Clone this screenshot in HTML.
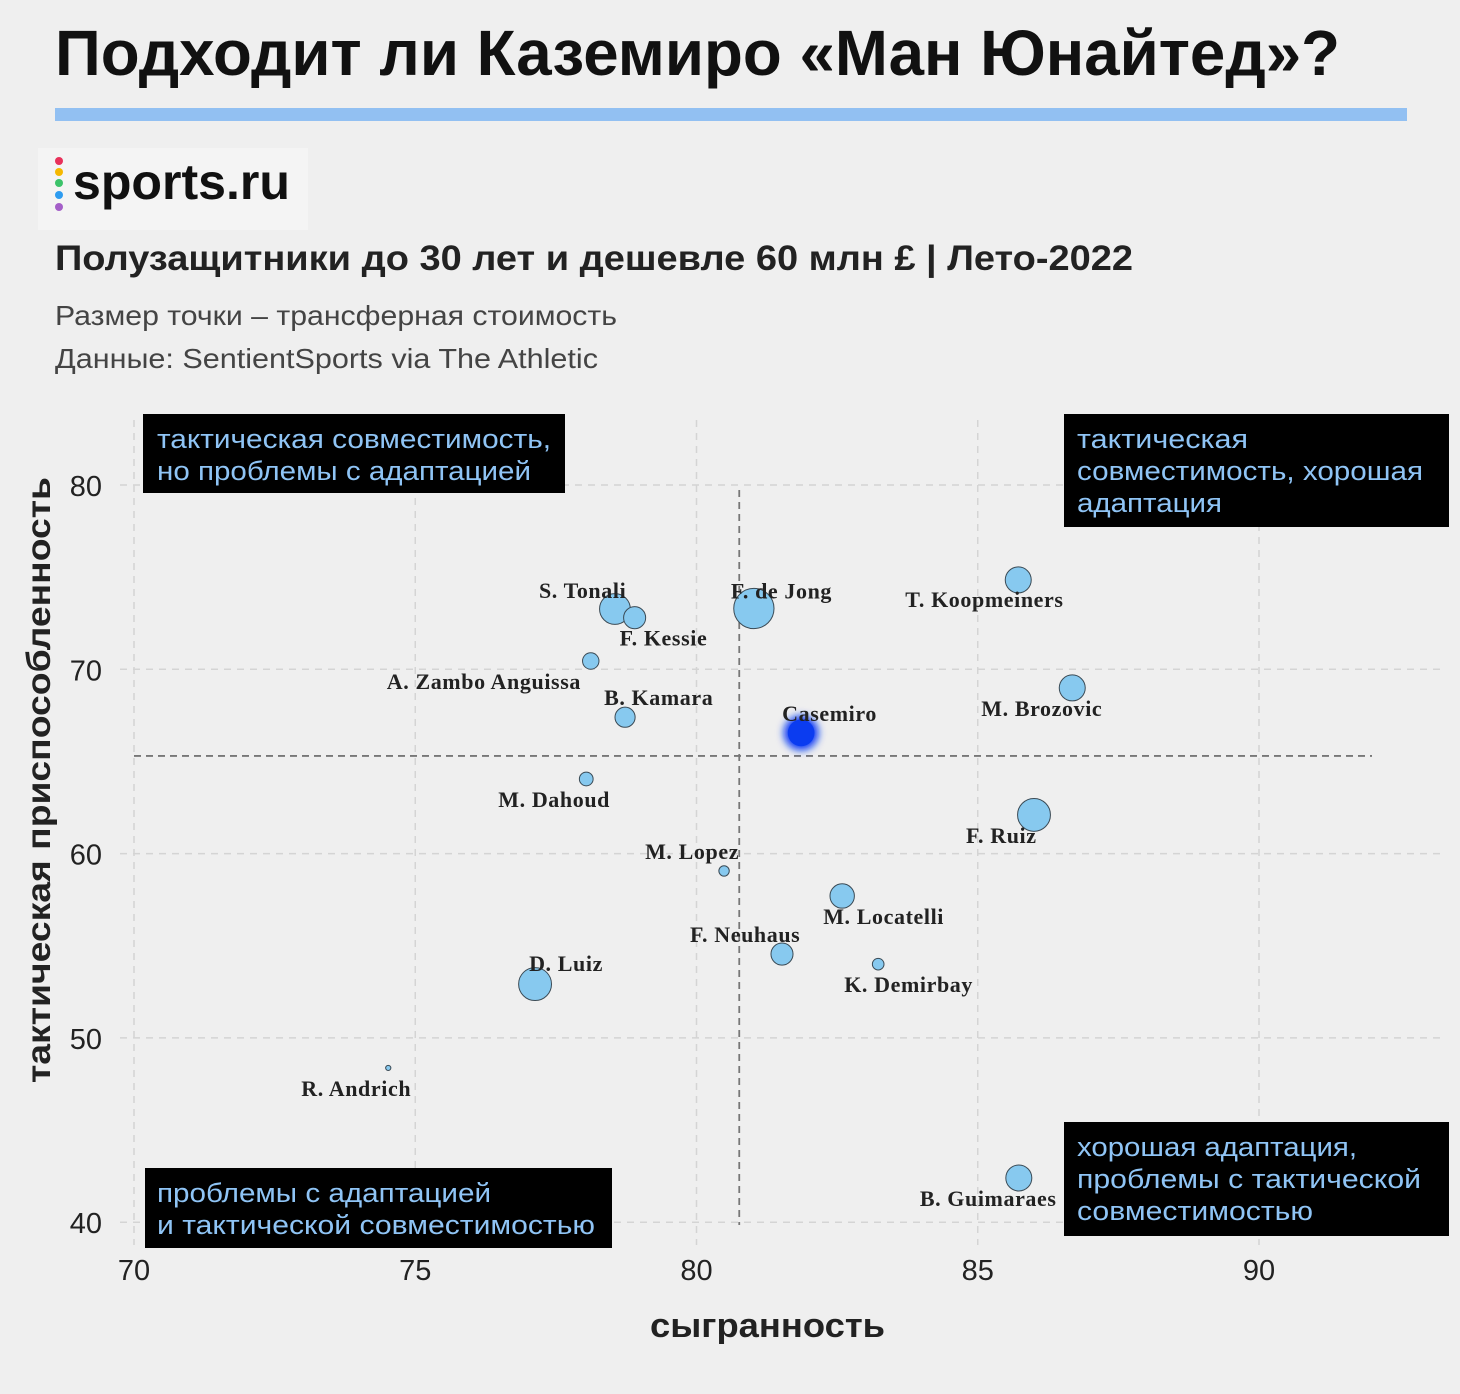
<!DOCTYPE html>
<html><head><meta charset="utf-8"><style>
html,body{margin:0;padding:0;background:#efefef;}
svg{display:block;}
.lbl{font-family:"Liberation Serif","DejaVu Serif",serif;font-weight:bold;font-size:22px;letter-spacing:0.6px;fill:#222;}
.q{font-family:"Liberation Sans","DejaVu Sans",sans-serif;font-size:27px;fill:#8fc4f5;}
.tick{font-family:"Liberation Sans","DejaVu Sans",sans-serif;font-size:29px;fill:#222;}
</style></head><body>
<svg id="chart" width="1460" height="1394" xmlns="http://www.w3.org/2000/svg">
<defs><filter id="glow" x="-1" y="-1" width="3" height="3"><feGaussianBlur stdDeviation="4"/></filter></defs>
<rect width="1460" height="1394" fill="#efefef"/>
<text x="55" y="75" font-family="Liberation Sans, DejaVu Sans, sans-serif" font-weight="bold" font-size="64" textLength="1285" lengthAdjust="spacingAndGlyphs" fill="#111">Подходит ли Каземиро «Ман Юнайтед»?</text>
<rect x="55" y="108" width="1352" height="13" fill="#92c0f2"/>
<g>
<rect x="38" y="148" width="270" height="82" fill="#f4f4f4"/>
<circle cx="59" cy="161" r="4" fill="#e8315a"/><circle cx="59" cy="172" r="4" fill="#f5b800"/><circle cx="59" cy="183" r="4" fill="#3cc36a"/><circle cx="59" cy="195" r="4" fill="#2e9cf0"/><circle cx="59" cy="207" r="4" fill="#a45fc8"/>
<text x="73" y="199" font-family="Liberation Sans, DejaVu Sans, sans-serif" font-weight="bold" font-size="50" fill="#111" textLength="217" lengthAdjust="spacingAndGlyphs">sports.ru</text>
</g>
<text x="55" y="270" font-family="Liberation Sans, DejaVu Sans, sans-serif" font-weight="bold" font-size="35" fill="#222" textLength="1078" lengthAdjust="spacingAndGlyphs">Полузащитники до 30 лет и дешевле 60 млн £ | Лето-2022</text>
<text x="55" y="325" font-family="Liberation Sans, DejaVu Sans, sans-serif" font-size="28" fill="#444" textLength="562" lengthAdjust="spacingAndGlyphs">Размер точки – трансферная стоимость</text>
<text x="55" y="368" font-family="Liberation Sans, DejaVu Sans, sans-serif" font-size="28" fill="#444" textLength="543" lengthAdjust="spacingAndGlyphs">Данные: SentientSports via The Athletic</text>
<g id="grid"></g>
<g id="ref"></g>
<g id="pts"></g>
<g id="labels"></g>
<g id="ticks"></g>
<g><rect x="143" y="414" width="422" height="79" fill="#000"/><text class="q" x="157" y="448" textLength="394" lengthAdjust="spacingAndGlyphs">тактическая совместимость,</text><text class="q" x="157" y="480" textLength="374" lengthAdjust="spacingAndGlyphs">но проблемы с адаптацией</text></g>
<g><rect x="1064" y="414" width="385" height="113" fill="#000"/><text class="q" x="1077" y="448" textLength="171" lengthAdjust="spacingAndGlyphs">тактическая</text><text class="q" x="1077" y="480" textLength="346" lengthAdjust="spacingAndGlyphs">совместимость, хорошая</text><text class="q" x="1077" y="512" textLength="145" lengthAdjust="spacingAndGlyphs">адаптация</text></g>
<g><rect x="1064" y="1122" width="385" height="114" fill="#000"/><text class="q" x="1077" y="1156" textLength="280" lengthAdjust="spacingAndGlyphs">хорошая адаптация,</text><text class="q" x="1077" y="1188" textLength="344" lengthAdjust="spacingAndGlyphs">проблемы с тактической</text><text class="q" x="1077" y="1220" textLength="236" lengthAdjust="spacingAndGlyphs">совместимостью</text></g>
<g><rect x="145" y="1168" width="467" height="80" fill="#000"/><text class="q" x="157" y="1202" textLength="334" lengthAdjust="spacingAndGlyphs">проблемы с адаптацией</text><text class="q" x="157" y="1234" textLength="438" lengthAdjust="spacingAndGlyphs">и тактической совместимостью</text></g>
<text x="650" y="1337" font-family="Liberation Sans, DejaVu Sans, sans-serif" font-weight="bold" font-size="34" fill="#222" textLength="235" lengthAdjust="spacingAndGlyphs">сыгранность</text>
<text transform="translate(50,780) rotate(-90)" text-anchor="middle" font-family="Liberation Sans, DejaVu Sans, sans-serif" font-weight="bold" font-size="33" fill="#222" textLength="606" lengthAdjust="spacingAndGlyphs">тактическая приспособленность</text>
</svg>
<script>
const players=["S. Tonali","F. Kessie","F. de Jong","T. Koopmeiners","A. Zambo Anguissa","B. Kamara","Casemiro","M. Brozovic","M. Dahoud","F. Ruiz","M. Lopez","M. Locatelli","F. Neuhaus","K. Demirbay","D. Luiz","R. Andrich","B. Guimaraes"];
const teamwork=[78.55,78.9,81.02,85.72,78.12,78.73,81.86,86.68,78.04,86.0,80.49,82.59,81.52,83.23,77.13,74.52,85.73];
const tactical=[73.27,72.8,73.3,74.85,70.45,67.4,66.55,68.99,64.05,62.1,59.06,57.7,54.55,54.0,52.92,48.37,42.4];
const value=[35,18,60,25,10,15,35,25,7,40,4,22,18,5,40,1,25];
const xTicks=[70,75,80,85,90];
const yTicks=[40,50,60,70,80];
const refX=80.76, refY=65.3;
const labelOffsets=[[-76,-11],[-15,28],[-23,-10],[-113,27],[-204,28],[-21,-12],[-19,-12],[-91,28],[-88,28],[-68,28],[-79,-12],[-19,28],[-92,-12],[-34,28],[-6,-13],[-87,28],[-99,28]];
const X=v=>134+(v-70)*56.25, Y=v=>485+(80-v)*18.43, R=v=>Math.max(1.5,Math.sqrt(v)*2.6);
const NS="http://www.w3.org/2000/svg";
function mk(t,a,p){const e=document.createElementNS(NS,t);for(const k in a)e.setAttribute(k,a[k]);p.appendChild(e);return e;}
const grid=document.getElementById('grid');
xTicks.forEach(t=>{const l=mk('line',{x1:X(t),x2:X(t),y1:420,y2:1245,stroke:'#d4d4d4','stroke-width':1.5,'stroke-dasharray':'7 6'},grid);

});
yTicks.forEach(t=>{const l=mk('line',{x1:120,x2:1440,y1:Y(t),y2:Y(t),stroke:'#d4d4d4','stroke-width':1.5,'stroke-dasharray':'7 6'},grid);

});
const ref=document.getElementById('ref');
const vl=mk('line',{x1:X(refX),x2:X(refX),y1:490,y2:1225,stroke:'#777','stroke-width':1.8,'stroke-dasharray':'7 5'},ref);


const hl=mk('line',{x1:134,x2:1372,y1:Y(refY),y2:Y(refY),stroke:'#777','stroke-width':1.8,'stroke-dasharray':'7 5'},ref);


const pts=document.getElementById('pts'),labs=document.getElementById('labels'),tk=document.getElementById('ticks');
players.forEach((n,i)=>{
 const cx=X(teamwork[i]),cy=Y(tactical[i]),r=R(value[i]);
 let c;
 if(n==="Casemiro"){mk('circle',{cx,cy,r:r+2,fill:'#0a3cf5',filter:'url(#glow)'},pts);c=mk('circle',{cx,cy,r:r-2,fill:'#0b3cf0'},pts);}
 else c=mk('circle',{cx,cy,r,fill:'#87c9ef',stroke:'#3a4a55','stroke-width':1},pts);
 
 
 const t=mk('text',{x:cx+labelOffsets[i][0],y:cy+labelOffsets[i][1],class:'lbl'},labs);t.textContent=n;
 
 
});
xTicks.forEach(t=>{const e=mk('text',{x:X(t),y:1280,class:'tick','text-anchor':'middle'},tk);e.textContent=t;

});
yTicks.forEach(t=>{const e=mk('text',{x:102,y:Y(t)+11,class:'tick','text-anchor':'end'},tk);e.textContent=t;

});
</script>
</body></html>
